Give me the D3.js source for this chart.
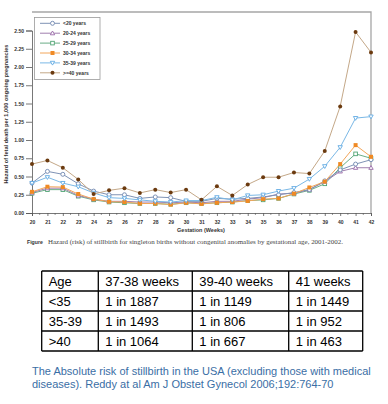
<!DOCTYPE html>
<html><head><meta charset="utf-8">
<script src="https://cdn.jsdelivr.net/npm/d3@7"></script>
<style>body{margin:0;background:#fff;}svg{display:block;}</style>
</head><body>
<svg id="c" width="388" height="404"></svg>
<script>
const weeks = d3.range(20, 43);
const seriesNames = ["<20 years","20-24 years","25-29 years","30-34 years","35-39 years",">=40 years"];
const lt20   = [0.41,0.57,0.53,0.40,0.30,0.25,0.25,0.20,0.22,0.21,0.16,0.16,0.20,0.19,0.20,0.22,0.25,0.28,0.32,0.44,0.59,0.67,0.73];
const a20_24 = [0.28,0.34,0.34,0.24,0.19,0.16,0.16,0.15,0.15,0.14,0.15,0.14,0.16,0.16,0.19,0.21,0.26,0.27,0.32,0.43,0.57,0.62,0.62];
const a25_29 = [0.27,0.32,0.32,0.23,0.18,0.15,0.14,0.13,0.13,0.12,0.14,0.13,0.14,0.15,0.17,0.18,0.20,0.26,0.31,0.40,0.62,0.81,0.75];
const a30_34 = [0.29,0.36,0.355,0.26,0.19,0.155,0.15,0.13,0.13,0.115,0.14,0.125,0.14,0.15,0.165,0.19,0.20,0.265,0.35,0.43,0.67,0.93,0.77];
const a35_39 = [0.41,0.49,0.41,0.36,0.275,0.21,0.20,0.18,0.16,0.15,0.17,0.17,0.215,0.18,0.24,0.25,0.30,0.34,0.465,0.64,0.90,1.30,1.32];
const ge40   = [0.67,0.72,0.62,0.46,0.26,0.31,0.34,0.275,0.32,0.28,0.32,0.18,0.365,0.24,0.39,0.49,0.49,0.555,0.54,0.85,1.46,2.48,2.20];
const yTicks = [0,0.25,0.5,0.75,1,1.25,1.5,1.75,2,2.25,2.5];
const tableHeader = ["Age","37-38 weeks","39-40 weeks","41 weeks"];
const tableAges = ["<35","35-39",">40"];
const risk3738 = ["1 in 1887","1 in 1493","1 in 1064"];
const risk3940 = ["1 in 1149","1 in 806","1 in 667"];
const risk41 = ["1 in 1449","1 in 952","1 in 463"];

const allSeries = [lt20,a20_24,a25_29,a30_34,a35_39,ge40];
const lineColors = ["#7f93b5","#a07fae","#6aae86","#f2a65a","#7ab8e6","#c4a888"];
const markColors = ["#6f87b0","#9a6aa8","#4fa473","#f08a24","#63ace3","#6b3a0f"];
const markTypes = ["circle","triangle","square","squareFill","triDown","dot"];

const svg = d3.select("#c");
const x = d3.scaleLinear().domain([20,42]).range([32,371]);
const y = d3.scaleLinear().domain([0,2.5]).range([213,30.5]);

svg.append("path").attr("d",`M32,12H371V213`).attr("fill","none").attr("stroke","#a6a6a6").attr("stroke-width",1.3);

const yAx = svg.append("g").attr("transform","translate(32,0)")
  .call(d3.axisLeft(y).tickValues(yTicks).tickFormat(d3.format(".2f")).tickSize(6).tickPadding(2));
yAx.select(".domain").attr("stroke","#555").attr("stroke-width",0.8);
yAx.selectAll("line").attr("stroke","#555").attr("stroke-width",0.8);
yAx.selectAll("text").attr("font-family","Liberation Sans, Arial").attr("font-size",5).attr("font-weight","bold").attr("fill","#333");

const xAx = svg.append("g").attr("transform","translate(0,213)")
  .call(d3.axisBottom(x).tickValues(weeks).tickFormat(d3.format("d")).tickSize(3).tickPadding(4));
xAx.select(".domain").attr("stroke","#555").attr("stroke-width",0.8);
xAx.selectAll("line").attr("stroke","#555").attr("stroke-width",0.8);
xAx.selectAll("text").attr("font-family","Liberation Sans, Arial").attr("font-size",5).attr("font-weight","bold").attr("fill","#333");
svg.append("g").selectAll("line").data(d3.range(20.5,42,1)).join("line")
  .attr("x1",d=>x(d)).attr("x2",d=>x(d)).attr("y1",213).attr("y2",215).attr("stroke","#555").attr("stroke-width",0.6);

svg.append("text").attr("x",201).attr("y",232).attr("text-anchor","middle")
  .attr("font-family","Liberation Sans, Arial").attr("font-size",5.5).attr("font-weight","bold").attr("fill","#333").text("Gestation (Weeks)");
svg.append("text").attr("transform","translate(8,114) rotate(-90)").attr("text-anchor","middle")
  .attr("font-family","Liberation Sans, Arial").attr("font-size",5.6).attr("font-weight","bold").attr("fill","#333")
  .text("Hazard of fetal death per 1,000 ongoing pregnancies");

function drawMarker(g, type, cx, cy, col, s){
  s = s||1;
  if(type==="circle") g.append("circle").attr("cx",cx).attr("cy",cy).attr("r",2*s).attr("fill","#fff").attr("stroke",col).attr("stroke-width",0.9);
  else if(type==="dot") g.append("circle").attr("cx",cx).attr("cy",cy).attr("r",2*s).attr("fill",col);
  else if(type==="square") g.append("rect").attr("x",cx-1.8*s).attr("y",cy-1.8*s).attr("width",3.6*s).attr("height",3.6*s).attr("fill","#fff").attr("stroke",col).attr("stroke-width",0.9);
  else if(type==="squareFill") g.append("rect").attr("x",cx-2*s).attr("y",cy-2*s).attr("width",4*s).attr("height",4*s).attr("fill",col);
  else if(type==="triangle") g.append("path").attr("d",`M${cx},${cy-2.2*s}L${cx+2.2*s},${cy+1.6*s}L${cx-2.2*s},${cy+1.6*s}Z`).attr("fill","#fff").attr("stroke",col).attr("stroke-width",0.9);
  else if(type==="triDown") g.append("path").attr("d",`M${cx},${cy+2.2*s}L${cx+2.2*s},${cy-1.6*s}L${cx-2.2*s},${cy-1.6*s}Z`).attr("fill","#fff").attr("stroke",col).attr("stroke-width",0.9);
}

const line = d3.line().x((d,i)=>x(weeks[i])).y(d=>y(d));
const order = [2,1,0,3,4,5];
order.forEach(k=>{
  const g = svg.append("g");
  g.append("path").attr("d",line(allSeries[k])).attr("fill","none").attr("stroke",lineColors[k]).attr("stroke-width",1);
  allSeries[k].forEach((v,i)=>drawMarker(g, markTypes[k], x(weeks[i]), y(v), markColors[k]));
});

const lg = svg.append("g");
lg.append("rect").attr("x",34.5).attr("y",17.5).attr("width",65.5).attr("height",62).attr("fill","#fff").attr("stroke","#999").attr("stroke-width",0.8);
seriesNames.forEach((n,k)=>{
  const yy = 23.3 + k*9.9;
  lg.append("line").attr("x1",40).attr("x2",60).attr("y1",yy).attr("y2",yy).attr("stroke",lineColors[k]).attr("stroke-width",1);
  drawMarker(lg, markTypes[k], 52.5, yy, markColors[k]);
  lg.append("text").attr("x",63).attr("y",yy+1.8).attr("font-family","Liberation Sans, Arial").attr("font-size",5).attr("font-weight","bold").attr("fill","#333").text(n);
});

svg.append("text").attr("x",27).attr("y",243.5).attr("font-size",5.2).attr("fill","#333")
  .attr("font-family","Liberation Sans, Arial").attr("font-weight","bold").text("Figure");
svg.append("text").attr("x",48).attr("y",243.5).attr("font-size",6.6).attr("fill","#444")
  .attr("font-family","Liberation Serif, Times New Roman, serif")
  .attr("textLength",295).attr("lengthAdjust","spacingAndGlyphs")
  .text("Hazard (risk) of stillbirth for singleton births without congenital anomalies by gestational age, 2001-2002.");

const colX = [41.7,98.3,192.3,288.7,362.7];
const rowY = [271,291,311,331,351];
const rows = [tableHeader].concat(tableAges.map((a,i)=>[a,risk3738[i],risk3940[i],risk41[i]]));
const tg = svg.append("g");
rows.forEach((r,ri)=>{
  r.forEach((t,ci)=>{
    tg.append("text").attr("x",colX[ci]+7).attr("y",rowY[ri]+15).attr("font-family","Liberation Sans, Arial").attr("font-size",13).attr("fill","#000").text(t);
  });
});
rowY.forEach(yy=>tg.append("line").attr("x1",colX[0]).attr("x2",colX[4]).attr("y1",yy).attr("y2",yy).attr("stroke","#000").attr("stroke-width",1.3));
colX.forEach(xx=>tg.append("line").attr("x1",xx).attr("x2",xx).attr("y1",rowY[0]).attr("y2",rowY[4]).attr("stroke","#000").attr("stroke-width",1.3));

const fn = ["The Absolute risk of stillbirth in the USA (excluding those with medical","diseases). Reddy at al Am J Obstet Gynecol 2006;192:764-70"];
fn.forEach((t,i)=>svg.append("text").attr("x",32).attr("y",375+i*13).attr("font-family","Liberation Sans, Arial").attr("font-size",11).attr("fill","#3a6ea5").text(t));
</script>
</body></html>
